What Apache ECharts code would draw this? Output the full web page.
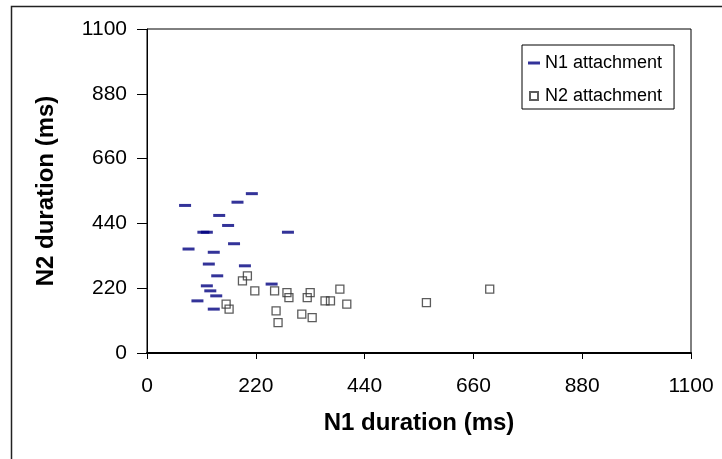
<!DOCTYPE html>
<html>
<head>
<meta charset="utf-8">
<script src="https://cdn.jsdelivr.net/npm/echarts@6/dist/echarts.min.js"></script>
<style>
  html, body { margin: 0; padding: 0; background: #fff; }
  #chart { width: 722px; height: 459px; }
</style>
</head>
<body>
<div id="chart"></div>
<script>
// N1 attachment points [N1 duration, N2 duration]
const n1Points = [
  [212, 541], [183, 512], [77, 501], [146, 467], [164, 433],
  [114, 410], [121, 410], [285, 410], [176, 371], [84, 353],
  [135, 342], [125, 302], [198, 296], [142, 262], [252, 234],
  [121, 228], [128, 211], [140, 194], [102, 177], [135, 149]
]
// N2 attachment points
const n2Points = [
  [203, 262], [193, 245], [218, 211], [258, 211], [283, 205],
  [287, 188], [330, 205], [324, 188], [390, 217], [360, 177],
  [371, 177], [404, 166], [261, 143], [265, 103], [313, 132],
  [334, 120], [565, 171], [693, 217], [160, 166], [166, 149]
]
const seriesNames = ['N1 attachment', 'N2 attachment']
const axisMin = 0
const axisMax = 1100
const axisStep = 220

const font = 'Arial, "Liberation Sans", sans-serif'
const chart = echarts.init(document.getElementById('chart'))

chart.setOption({
  animation: false,
  backgroundColor: '#fff',
  textStyle: { fontFamily: font, color: '#000' },
  // outer frame of the figure
  graphic: [{
    type: 'rect',
    left: 9,
    top: 4,
    shape: { width: 740, height: 500 },
    style: { fill: 'none', stroke: '#222', lineWidth: 1.5 },
    silent: true
  }],
  grid: {
    left: 147,
    right: 31,
    top: 29,
    bottom: 106,
    show: true,
    borderColor: '#000',
    borderWidth: 1
  },
  legend: {
    orient: 'vertical',
    left: 522,
    top: 45,
    padding: [9, 12, 4, 6],
    itemGap: 15,
    itemWidth: 12,
    itemHeight: 8,
    itemTextGap: 7,
    borderColor: '#000',
    borderWidth: 1,
    backgroundColor: '#fff',
    textStyle: { fontFamily: font, fontSize: 18, color: '#000' },
    data: [
      { name: seriesNames[0], icon: 'path://M0,0L12,0L12,3L0,3Z' },
      { name: seriesNames[1], icon: 'path://M0,0L8,0L8,8L0,8Z' }
    ]
  },
  xAxis: {
    type: 'value',
    min: axisMin,
    max: axisMax,
    interval: axisStep,
    name: 'N1 duration (ms)',
    nameLocation: 'middle',
    nameGap: 58,
    nameTextStyle: { fontFamily: font, fontSize: 24, fontWeight: 'bold', color: '#000' },
    axisLine: { lineStyle: { color: '#000', width: 2 } },
    axisTick: { length: 6, lineStyle: { color: '#000' } },
    axisLabel: { margin: 23, fontSize: 21, color: '#000', fontFamily: font, formatter: v => String(v) },
    splitLine: { show: false }
  },
  yAxis: {
    type: 'value',
    min: axisMin,
    max: axisMax,
    interval: axisStep,
    name: 'N2 duration (ms)',
    nameLocation: 'middle',
    nameGap: 89,
    nameTextStyle: { fontFamily: font, fontSize: 24, fontWeight: 'bold', color: '#000' },
    axisLine: { show: true, lineStyle: { color: '#000', width: 1 } },
    axisTick: { show: true, length: 10, lineStyle: { color: '#000' } },
    axisLabel: { margin: 20, fontSize: 21, color: '#000', fontFamily: font, formatter: v => String(v) },
    splitLine: { show: false }
  },
  series: [
    {
      name: seriesNames[0],
      type: 'scatter',
      symbol: 'rect',
      symbolSize: [12, 3],
      itemStyle: { color: '#000080' },
      data: n1Points
    },
    {
      name: seriesNames[1],
      type: 'scatter',
      symbol: 'rect',
      symbolSize: 8,
      itemStyle: { color: 'rgba(0,0,0,0)', borderColor: '#333', borderWidth: 1.3 },
      data: n2Points
    }
  ]
})
</script>
</body>
</html>
